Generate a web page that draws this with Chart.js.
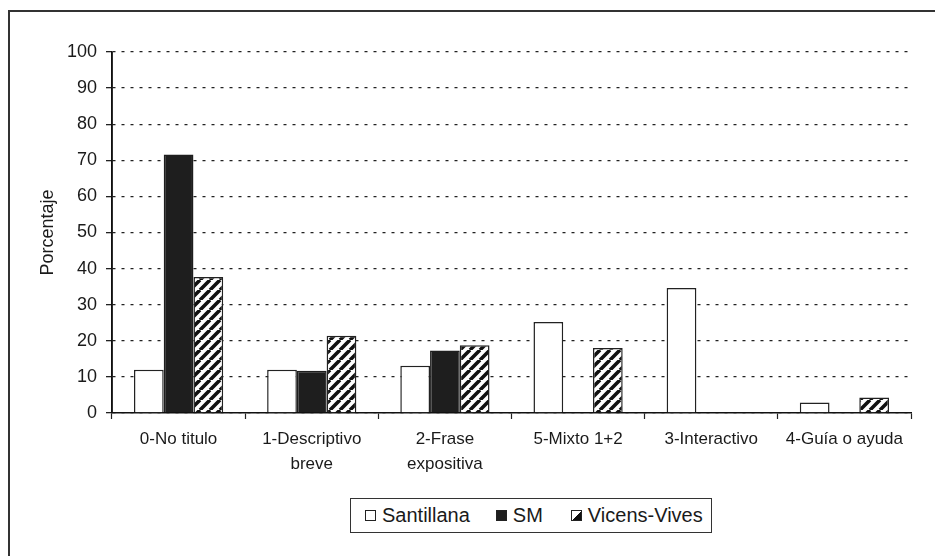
<!DOCTYPE html>
<html>
<head>
<meta charset="utf-8">
<script src="https://cdn.jsdelivr.net/npm/chart.js@4.4.1/dist/chart.umd.min.js"></script>
<style>
  html, body { margin: 0; padding: 0; background: #fff; }
  body { width: 935px; height: 556px; position: relative; overflow: hidden; font-family: "Liberation Sans", Arial, sans-serif; }
  #frame { position: absolute; left: 8px; top: 10px; right: -4px; bottom: -4px; border-top: 2px solid #333; border-left: 2px solid #333; }
  #wrap { position: absolute; left: 0; top: 0; width: 935px; height: 556px; }
  #legend { position: absolute; left: 350px; top: 498px; width: 360px; height: 33px; border: 1.5px solid #333; background: #fff;
            display: flex; align-items: center; font-size: 20px; color: #1a1a1a; }
  #legend .item { display: flex; align-items: center; }
  #legend .box { width: 11px; height: 11px; border: 1.2px solid #222; margin-right: 6px; box-sizing: border-box; }
</style>
</head>
<body>
<div id="frame"></div>
<div id="wrap"><canvas id="chart" width="935" height="556"></canvas></div>
<div id="legend"></div>
<script>
'use strict';

const categories = [
  ['0-No titulo'],
  ['1-Descriptivo', 'breve'],
  ['2-Frase', 'expositiva'],
  ['5-Mixto 1+2'],
  ['3-Interactivo'],
  ['4-Guía o ayuda']
];
const seriesNames = ['Santillana', 'SM', 'Vicens-Vives'];
const santillana = [12, 12, 13.1, 25.2, 34.6, 2.9];
const sm = [71.6, 11.7, 17.3, 0, 0, 0];
const vicens = [37.7, 21.4, 18.8, 18, 0, 4.3];
const yTicks = [0, 10, 20, 30, 40, 50, 60, 70, 80, 90, 100];

function hatchPattern() {
  const size = 10;
  const c = document.createElement('canvas');
  c.width = size; c.height = size;
  const g = c.getContext('2d');
  g.fillStyle = '#fff';
  g.fillRect(0, 0, size, size);
  g.strokeStyle = '#111';
  g.lineWidth = 3.6;
  g.beginPath();
  for (let k = -1; k <= 1; k++) {
    g.moveTo(k * size, size);
    g.lineTo(k * size + size, 0);
  }
  g.stroke();
  return g.createPattern(c, 'repeat');
}

// solid y axis line, since the grid dash also hits the border
const axisLine = {
  id: 'axisLine',
  afterDraw(chart) {
    const a = chart.chartArea;
    const c = chart.ctx;
    c.save();
    c.strokeStyle = '#111';
    c.lineWidth = 1.5;
    c.setLineDash([]);
    c.beginPath();
    c.moveTo(a.left, a.top);
    c.lineTo(a.left, a.bottom);
    c.stroke();
    c.restore();
  }
};

const ctx = document.getElementById('chart').getContext('2d');
const font = '"Liberation Sans", Arial, sans-serif';

new Chart(ctx, {
  type: 'bar',
  data: {
    labels: categories,
    datasets: [
      { label: seriesNames[0], data: santillana, backgroundColor: '#fff', borderColor: '#222', borderWidth: 1.5 },
      { label: seriesNames[1], data: sm, backgroundColor: '#1e1e1e', borderColor: '#1e1e1e', borderWidth: 1.5 },
      { label: seriesNames[2], data: vicens, backgroundColor: hatchPattern(), borderColor: '#222', borderWidth: 1.5 }
    ]
  },
  options: {
    responsive: false,
    animation: false,
    devicePixelRatio: 1,
    datasets: { bar: { categoryPercentage: 0.67, barPercentage: 1 } },
    layout: { padding: { left: 37, top: 52, right: 24, bottom: 63 } },
    scales: {
      x: {
        grid: { display: true, offset: true, drawOnChartArea: false, drawTicks: true, tickLength: 6, color: '#222', tickWidth: 1.2 },
        border: { display: true, color: '#111', width: 1.5 },
        ticks: { color: '#1a1a1a', font: { family: font, size: 17, lineHeight: 1.45 }, padding: 8, maxRotation: 0, autoSkip: false },
        afterFit: s => { s.height = 80; }
      },
      y: {
        min: 0,
        max: 100,
        afterBuildTicks: s => { s.ticks = yTicks.map(v => ({ value: v })); },
        grid: { color: '#222', lineWidth: 1.3, drawTicks: true, tickLength: 6, tickBorderDash: [0, 0], tickColor: '#222', tickWidth: 1.3 },
        border: { display: true, color: '#111', width: 1.5, dash: [3, 6] },
        ticks: { color: '#1a1a1a', font: { family: font, size: 18 }, padding: 9 },
        title: { display: true, text: 'Porcentaje', color: '#1a1a1a', font: { family: font, size: 18 }, padding: 0 },
        afterFit: s => { s.width = 75; }
      }
    },
    plugins: {
      legend: { display: false },
      tooltip: { enabled: false }
    }
  },
  plugins: [axisLine]
});

// legend as html, same look as the original box
const legendIcons = [
  'background:#fff',
  'background:#1e1e1e',
  'background:linear-gradient(135deg, #fff 55%, #111 55%)'
];
const legendGaps = [14, 26, 28];
document.getElementById('legend').innerHTML = seriesNames.map((name, i) =>
  `<span class="item" style="margin-left:${legendGaps[i]}px"><span class="box" style="${legendIcons[i]}"></span>${name}</span>`
).join('');
</script>
</body>
</html>
